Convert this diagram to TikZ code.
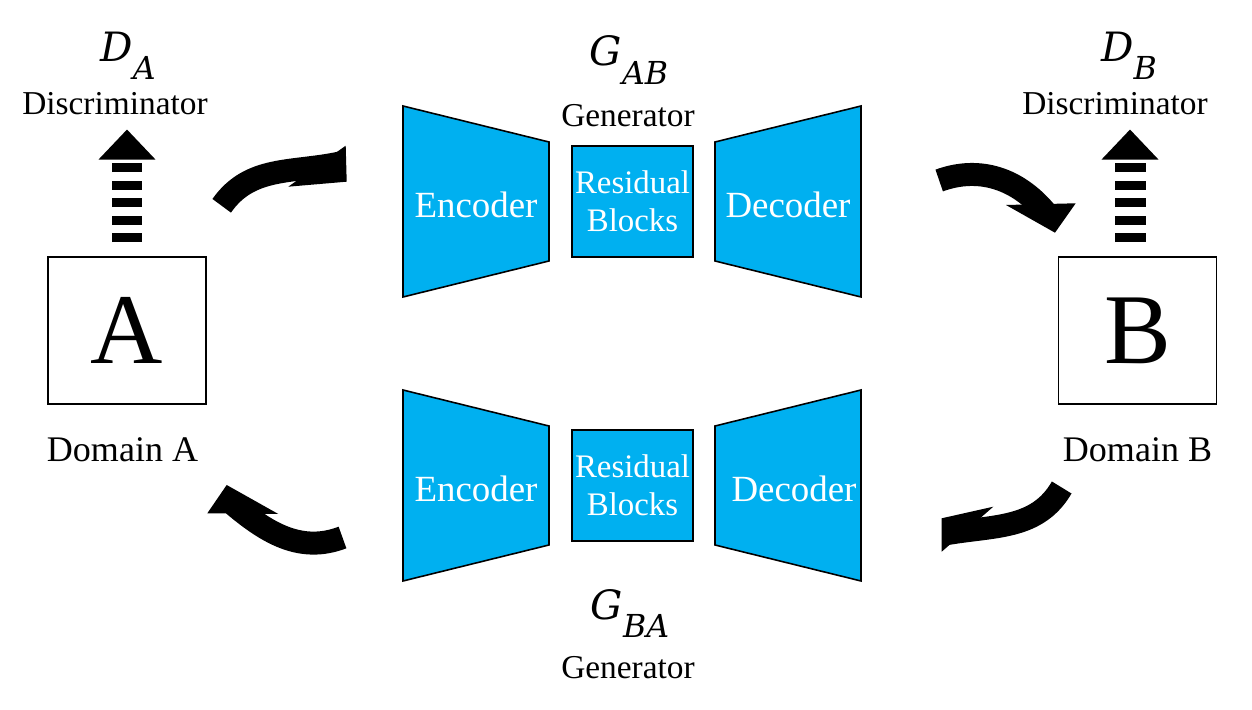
\documentclass[tikz,border=0pt]{standalone}
\usepackage{fontspec}
\setmainfont{Liberation Serif}
\newfontfamily\netfont{DejaVu Serif}
\usetikzlibrary{arrows.meta, positioning}
\definecolor{blockblue}{HTML}{00B0F0}
\newcommand{\netsym}[2]{\textit{#1}\raisebox{-0.45em}{\fontsize{18}{18}\selectfont\textit{#2}}}

\begin{document}
\begin{tikzpicture}[
    x=0.02cm, y=0.02cm,
    domainbox/.style={
        rectangle, draw, line width=1.1pt,
        minimum width=3.16cm, minimum height=2.94cm, inner sep=0pt,
        font=\fontsize{57}{60}\selectfont
    },
    caption/.style={inner sep=0pt, font=\fontsize{20.5}{24}\selectfont},
    role/.style={inner sep=0pt, font=\fontsize{19}{22}\selectfont},
    netname/.style={inner sep=0pt, font=\netfont\fontsize{23}{26}\selectfont},
    part/.style={draw=black, line width=0.9pt, fill=blockblue},
    res/.style={
        part, rectangle, minimum width=2.42cm, minimum height=2.22cm,
        inner sep=0pt, align=center, text=white,
        font=\fontsize{18.7}{21.5}\selectfont
    },
    partlbl/.style={inner sep=0pt, text=white, font=\fontsize{21}{24}\selectfont},
    cycbody/.style={line width=0.46cm},
    cychead/.style={fill=black},
    discarr/.style={
        line width=0.62cm, dash pattern=on 0.18cm off 0.17cm,
        shorten <=0.28cm, shorten >=0.28cm,
        -{Triangle[width=1.14cm, length=0.6cm, line width=0pt]}
    },
]
\useasboundingbox (0,0) rectangle (1252,710);

% ── Domains ──────
\node[domainbox] (boxA) at (127,379.5) {A};
\node[domainbox] (boxB) at (1137.5,379.5) {B};
\node[caption, below=0.64cm of boxA, xshift=-0.09cm] (domA) {Domain A};
\node[caption, below=0.64cm of boxB] (domB) {Domain B};

% ── Discriminators ──────
\node[netname] (DA) at (128,654) {\netsym{D}{A}};
\node[role] (discA) at (115,606) {Discriminator};
\node[netname] (DB) at (1129,654) {\netsym{D}{B}};
\node[role] (discB) at (1115,606) {Discriminator};

\draw[discarr] (boxA.north) -- (boxA.north |- discA.south);
\draw[discarr] ([xshift=-0.15cm]boxB.north) -- ([xshift=-0.15cm]boxB.north |- discB.south);

% ── Generator AB ──────
\node[netname] (GAB) at (629,650) {\netsym{G}{AB}};
\node[role] (genAB) at (628,594) {Generator};
\draw[part] (403,604) -- (549,568) -- (549,449) -- (403,413) -- cycle;
\node[partlbl] (encAB) at (476,505) {Encoder};
\node[res] (resAB) at (632.5,508.5) {Residual\\Blocks};
\draw[part] (715,568) -- (861,604) -- (861,413) -- (715,449) -- cycle;
\node[partlbl] (decAB) at (788,505) {Decoder};

% ── Generator BA ──────
\draw[part] (403,320) -- (549,284) -- (549,165) -- (403,129) -- cycle;
\node[partlbl] (encBA) at (476,221) {Encoder};
\node[res] (resBA) at (632.5,224.5) {Residual\\Blocks};
\draw[part] (715,284) -- (861,320) -- (861,129) -- (715,165) -- cycle;
\node[partlbl] (decBA) at (794,221) {Decoder};
\node[netname] (GBA) at (630,96.5) {\netsym{G}{BA}};
\node[role] (genBA) at (628,42) {Generator};

% ── Cycle arrows ──────
% A -> G_AB
\coordinate (abTail) at (221.7,504.2);
\coordinate (abEnd) at (340,547);
\coordinate (abBarbU) at (345.7,564.3);
\coordinate (abTip) at (346.7,528.3);
\coordinate (abBarbL) at (288.3,523.3);
\draw[cycbody] (abTail) to[out=55, in=192] (abEnd);
\fill[cychead] (abBarbU) -- (abTip) -- (abBarbL) -- cycle;

% G_AB -> B
\coordinate (bTail) at (939.2,529.5);
\coordinate (bEnd) at (1045.7,497.8);
\coordinate (bBarbR) at (1075.7,506.7);
\coordinate (bTip) at (1055,477.3);
\coordinate (bBarbL) at (1006,505);
\draw[cycbody] (bTail) to[out=20, in=130] (bEnd);
\fill[cychead] (bBarbR) -- (bTip) -- (bBarbL) -- cycle;

% B -> G_BA
\coordinate (baTail) at (1061.7,222.5);
\coordinate (baEnd) at (945.4,176.1);
\coordinate (baBarbU) at (993.3,203.3);
\coordinate (baTip) at (941.7,191.7);
\coordinate (baBarbL) at (941.7,158.3);
\draw[cycbody] (baTail) to[out=240, in=10] (baEnd);
\fill[cychead] (baBarbU) -- (baTip) -- (baBarbL) -- cycle;

% G_BA -> A
\coordinate (aTail) at (342.5,172.5);
\coordinate (aEnd) at (233.5,205.3);
\coordinate (aTip) at (226.7,225);
\coordinate (aBarbL) at (207.3,196.7);
\coordinate (aBarbR) at (278.3,196);
\draw[cycbody] (aTail) to[out=201, in=320] (aEnd);
\fill[cychead] (aBarbL) -- (aTip) -- (aBarbR) -- cycle;

\end{tikzpicture}
\end{document}
